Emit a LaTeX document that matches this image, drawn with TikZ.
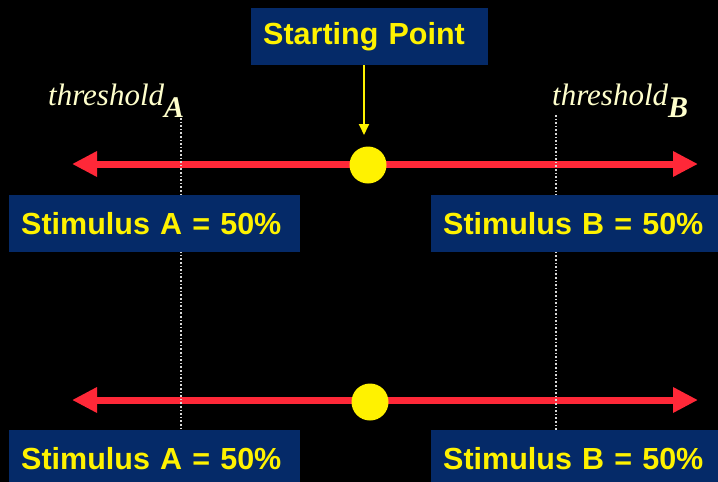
\documentclass[tikz,border=0pt]{standalone}
\usepackage{fontspec}
\setmainfont{Liberation Serif}
\setsansfont{Liberation Sans}
\usepackage{xcolor}
\usepackage{tikz}
\usetikzlibrary{arrows.meta,positioning}

\definecolor{boxblue}{RGB}{5,42,104}
\definecolor{linered}{RGB}{255,40,56}
\definecolor{cream}{RGB}{255,255,204}

\begin{document}
\begin{tikzpicture}[
  x=1pt,y=-1pt,
  box/.style={fill=boxblue,anchor=north west,inner xsep=12pt,inner ysep=0pt,
    minimum height=57pt,align=left,text=yellow,
    font=\sffamily\bfseries\fontsize{30.5}{36}\selectfont},
  thr/.style={anchor=base west,inner sep=0pt,text=cream,
    font=\fontsize{31}{36}\selectfont\itshape},
  redarrow/.style={{Triangle[length=25pt,width=24pt]}-{Triangle[length=25pt,width=24pt]},
    line width=7pt,draw=linered},
  dot/.style={circle,fill=yellow,minimum size=37pt,inner sep=0pt},
  guide/.style={white!85!black,line width=1.6pt,dotted}
]
\fill[black] (0,0) rectangle (718,482);
\clip (0,0) rectangle (718,482);

% the two lines with the starting point
\coordinate (leftA) at (72,164);
\coordinate (rightA) at (698,164);
\coordinate (leftB) at (72,400);
\coordinate (rightB) at (698,400);
\draw[redarrow] (leftA) -- (rightA);
\draw[redarrow] (leftB) -- (rightB);
\node[dot] (dotA) at (368,165) {};
\node[dot] (dotB) at (370,402) {};

% thresholds
\node[thr] (thrA) at (48,105) {threshold\raisebox{-12pt}{\fontsize{30}{32}\selectfont\bfseries A}};
\node[thr] (thrB) at (552,105) {threshold\raisebox{-12pt}{\fontsize{30}{32}\selectfont\bfseries B}};
\coordinate (guideA) at (181,118);
\coordinate (guideB) at (556,115);
\draw[guide] (guideA) -- (guideA |- 0,482);
\draw[guide] (guideB) -- (guideB |- 0,482);

% boxes
\node[box,text width=213pt] (start) at (251,8) {Starting Point};
\node[box,text width=267pt] (stimA) at (9,195) {Stimulus A = 50\%};
\node[box,text width=263pt] (stimB) at (431,195) {Stimulus B = 50\%};
\node[box,text width=267pt] (stimC) at (9,430) {Stimulus A = 50\%};
\node[box,text width=263pt] (stimD) at (431,430) {Stimulus B = 50\%};

\coordinate (ptr) at (364,135);
\draw[yellow,line width=1.8pt,-{Triangle[length=11pt,width=10pt]}] (start.south -| ptr) -- (ptr);
\end{tikzpicture}
\end{document}
